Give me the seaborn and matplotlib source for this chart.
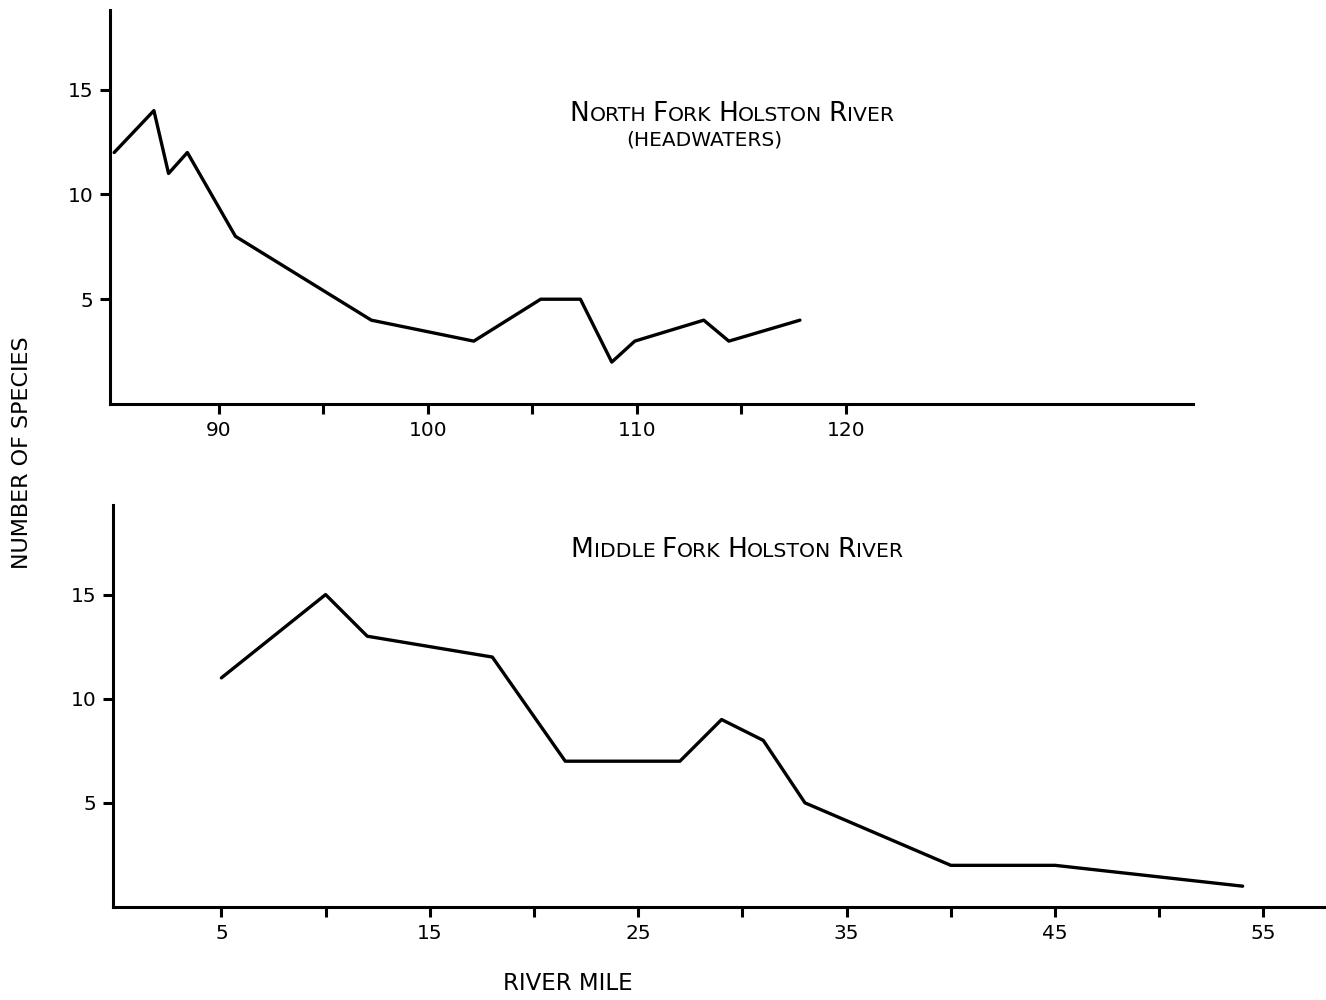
import matplotlib
matplotlib.use("Agg")
import matplotlib.pyplot as plt
import seaborn as sns
import pandas as pd

# North Fork Holston River (headwaters), river mile vs number of species
north_mile = [85, 86.9, 87.6, 88.5, 90.8, 97.3, 102.2, 105.4, 107.3, 108.8, 109.9, 113.2, 114.4, 117.8]
north_species = [12, 14, 11, 12, 8, 4, 3, 5, 5, 2, 3, 4, 3, 4]

# Middle Fork Holston River
middle_mile = [5, 10, 12, 18, 21.5, 27, 29, 31, 33, 40, 45, 54]
middle_species = [11, 15, 13, 12, 7, 7, 9, 8, 5, 2, 2, 1]

north_ticks = [90, 95, 100, 105, 110, 115, 120]
north_labels = ["90", "", "100", "", "110", "", "120"]
middle_ticks = [5, 10, 15, 20, 25, 30, 35, 40, 45, 50, 55]
middle_labels = ["5", "", "15", "", "25", "", "35", "", "45", "", "55"]
y_ticks = [5, 10, 15]

df_north = pd.DataFrame({"mile": north_mile, "species": north_species})
df_middle = pd.DataFrame({"mile": middle_mile, "species": middle_species})

sns.set_style("ticks")
plt.rcParams["font.family"] = ["DejaVu Sans"]

W, H = 1326, 1000
fig = plt.figure(figsize=(W / 100, H / 100), dpi=100)


def px_axes(left, top, right, bottom):
    return fig.add_axes([left / W, 1 - bottom / H, (right - left) / W, (bottom - top) / H])


def style_axes(ax):
    for s in ["top", "right"]:
        ax.spines[s].set_visible(False)
    for s in ["left", "bottom"]:
        ax.spines[s].set_linewidth(2.2)
        ax.spines[s].set_color("black")
    ax.tick_params(axis="both", direction="out", length=7, width=2.2, colors="black",
                   labelsize=14.5, pad=5)
    ax.set_xlabel("")
    ax.set_ylabel("")


ax1 = px_axes(110, 10, 1193, 404)
sns.lineplot(data=df_north, x="mile", y="species", ax=ax1, color="black",
             linewidth=2.4, estimator=None, sort=False)
ax1.set_xlim(84.8, 136.6)
ax1.set_ylim(0, 18.8)
ax1.set_xticks(north_ticks)
ax1.set_xticklabels(north_labels)
ax1.set_yticks(y_ticks)
style_axes(ax1)

ax2 = px_axes(113, 505, 1326, 907)
sns.lineplot(data=df_middle, x="mile", y="species", ax=ax2, color="black",
             linewidth=2.4, estimator=None, sort=False)
ax2.set_xlim(-0.2, 58)
ax2.set_ylim(0, 19.3)
ax2.set_xticks(middle_ticks)
ax2.set_xticklabels(middle_labels)
ax2.set_yticks(y_ticks)
style_axes(ax2)

renderer = fig.canvas.get_renderer()


def small_caps(cx, cy, text, big=19, small=14.7):
    # draw text in small caps: first letter of each word large, the rest smaller
    pieces = []
    for wi, word in enumerate(text.split(" ")):
        if wi > 0:
            pieces.append((" ", small))
        pieces.append((word[0].upper(), big))
        if len(word) > 1:
            pieces.append((word[1:].upper(), small))
    objs = []
    widths = []
    for s, size in pieces:
        t = fig.text(0, cy / H, s, fontsize=size, ha="left", va="baseline", color="black")
        bb = t.get_window_extent(renderer)
        objs.append(t)
        widths.append(bb.width)
    total = sum(widths)
    x = cx - total / 2
    for t, w in zip(objs, widths):
        t.set_x(x / W)
        x += w


small_caps(732, 1000 - 121, "North Fork Holston River")
fig.text(704 / W, 1 - 146 / H, "(HEADWATERS)", fontsize=14.5, ha="center",
         va="baseline", color="black")
small_caps(737, 1000 - 557, "Middle Fork Holston River")

fig.text(22 / W, 1 - 453 / H, "NUMBER OF SPECIES", rotation=90, fontsize=16,
         ha="center", va="center", color="black")
fig.text(568 / W, 1 - 983 / H, "RIVER MILE", fontsize=16.5, ha="center",
         va="center", color="black")

fig.savefig("out.png", dpi=100)
